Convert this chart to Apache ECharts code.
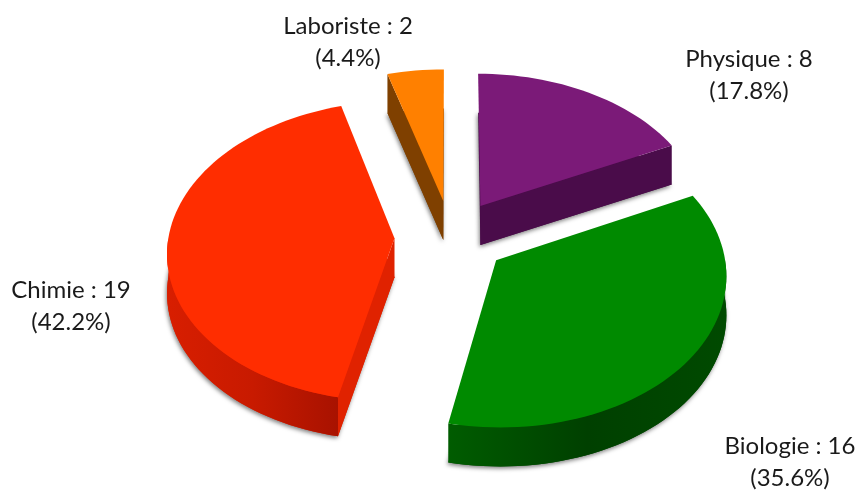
<!DOCTYPE html>
<html>
<head>
<meta charset="utf-8">
<title>Pie</title>
<script src="https://cdn.jsdelivr.net/npm/echarts@6/dist/echarts.min.js"></script>
<style>
  html, body { margin: 0; padding: 0; background: #fff; }
  #chart { width: 861px; height: 490px; }
</style>
</head>
<body>
<div id="chart"></div>
<script>
const categories = ['Physique', 'Biologie', 'Chimie', 'Laboriste']
const counts = [8, 16, 19, 2]

// colours per slice: top face, cut wall, outer wall stops left to right
const topColors = ['#7b1a78', '#008a00', '#ff2d00', '#ff8000']
const cutColors = ['#4a0c4a', '#004a00', '#e02200', '#7f4000']
const wallStops = [
  ['#4a0c4a', '#4a0c4a', '#4a0c4a'],
  ['#005c00', '#004000', '#004a00'],
  ['#d81e00', '#c81a00', '#a81200'],
  ['#7f4000', '#7f4000', '#7f4000']
]

// label centres
const labelX = [749, 790, 71, 348]
const labelY = [75, 462, 306, 42]

// projection of the tilted pie
const cx = 451, cy = 237, rx = 226, ry = 148.7
const persp = 0.0857, depth = 39, explode = 0.25

const total = counts.reduce((a, b) => a + b, 0)
const rad = d => d * Math.PI / 180

const project = (X, Y, low) => {
  const s = 1 / (1 + persp * Y)
  return [cx + X * rx * s, cy - Y * ry * s + (low ? depth : 0)]
}

const renderSlice = (params, api) => {
  const i = params.dataIndex
  const value = api.value(0)
  const before = counts.slice(0, i).reduce((a, b) => a + b, 0)
  const start = before / total * 360
  const end = start + value / total * 360
  const mid = rad((start + end) / 2)
  const ox = Math.sin(mid) * explode
  const oy = Math.cos(mid) * explode

  const rim = (deg, low) => project(ox + Math.sin(rad(deg)), oy + Math.cos(rad(deg)), low)
  const arc = (a, b, low) => {
    const pts = []
    const n = Math.max(2, Math.ceil(Math.abs(b - a) / 2))
    for (let k = 0; k <= n; k++) pts.push(rim(a + (b - a) * k / n, low))
    return pts
  }
  const apex = low => project(ox, oy, low)
  const children = []

  // bottom face carries the soft shadow
  children.push({
    type: 'polygon',
    shape: { points: [apex(true)].concat(arc(start, end, true)) },
    style: {
      fill: cutColors[i],
      shadowBlur: 4,
      shadowColor: 'rgba(0,0,0,0.5)',
      shadowOffsetX: -1,
      shadowOffsetY: 2
    }
  })

  // cut walls, only the ones facing the viewer
  const cutWall = deg => ({
    type: 'polygon',
    shape: { points: [apex(false), rim(deg, false), rim(deg, true), apex(true)] },
    style: { fill: cutColors[i] }
  })
  if (Math.cos(rad(start - 90)) < 0) children.push(cutWall(start))
  if (Math.cos(rad(end + 90)) < 0) children.push(cutWall(end))

  // outer wall, front half only
  const wa = Math.max(start, 90), wb = Math.min(end, 270)
  if (wb > wa) {
    const top = arc(wa, wb, false)
    const low = arc(wa, wb, true)
    children.push({
      type: 'polygon',
      shape: { points: top.concat(low.reverse()) },
      style: {
        fill: new echarts.graphic.LinearGradient(0, 0, 1, 0, [
          { offset: 0, color: wallStops[i][0] },
          { offset: 0.5, color: wallStops[i][1] },
          { offset: 1, color: wallStops[i][2] }
        ])
      }
    })
  }

  // top face
  children.push({
    type: 'polygon',
    shape: { points: [apex(false)].concat(arc(start, end, false)) },
    style: { fill: topColors[i] }
  })

  // label
  const pct = (value / total * 100).toFixed(1)
  children.push({
    type: 'text',
    x: labelX[i],
    y: labelY[i],
    style: {
      text: categories[i] + ' : ' + value + '\n(' + pct + '%)',
      font: '24px Lato',
      fill: '#1a1a1a',
      align: 'center',
      verticalAlign: 'middle',
      lineHeight: 32
    }
  })
  return { type: 'group', children }
}

const chart = echarts.init(document.getElementById('chart'), null, { renderer: 'canvas' })
chart.setOption({
  animation: false,
  backgroundColor: '#fff',
  series: [{
    type: 'custom',
    coordinateSystem: 'none',
    renderItem: renderSlice,
    data: counts.map(v => [v])
  }]
})
</script>
</body>
</html>
